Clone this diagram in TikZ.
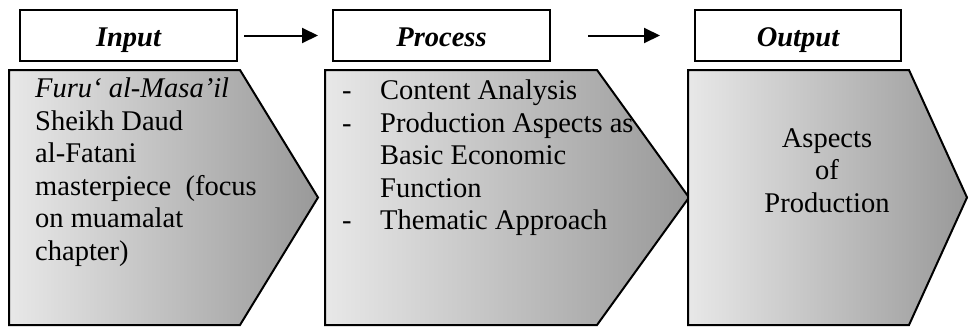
\documentclass[tikz,border=0pt]{standalone}
\usepackage{fontspec}
\setmainfont{Liberation Serif}
\usetikzlibrary{arrows.meta}
\definecolor{shadelight}{HTML}{E8E8E8}
\definecolor{shadedark}{HTML}{999999}
\newcommand{\dashitem}{\makebox[38pt][l]{-}}
\newcommand{\noitem}{\makebox[38pt][l]{}}
\begin{document}
\begin{tikzpicture}[x=1pt, y=-1pt,
        every node/.style={font=\fontsize{28.5}{32.5}\selectfont},
        titlebox/.style={draw, line width=2pt, minimum height=51pt, text height=21pt, text depth=0pt,
            font=\fontsize{28.5}{32.5}\selectfont\bfseries\itshape},
        chevron/.style={draw, line width=2pt, left color=shadelight, right color=shadedark},
        flow/.style={-{Triangle[length=16pt,width=15pt]}, line width=2pt}
    ]
        \useasboundingbox (0,0) rectangle (969,327);

        % Chevron shapes
        \shade[chevron] (9,70) -- (240,70) -- (318,197.5) -- (240,325) -- (9,325) -- cycle;
        \shade[chevron] (325,70) -- (597,70) -- (689,197.5) -- (597,325) -- (325,325) -- cycle;
        \shade[chevron] (688,70) -- (909,70) -- (967,197.5) -- (909,325) -- (688,325) -- cycle;

        % Headings
        \node[titlebox, minimum width=217pt] (inTitle) at (128.5,35.5) {Input};
        \node[titlebox, minimum width=217pt] (procTitle) at (441.5,35.5) {Process};
        \node[titlebox, minimum width=206pt] (outTitle) at (798,35.5) {Output};

        % Arrows between headings
        \draw[flow, shorten <=6pt, shorten >=14pt] (inTitle.east) -- (procTitle.west);
        \draw[flow, shorten <=37pt, shorten >=34pt] (procTitle.east) -- (outTitle.west);

        % Texts inside chevrons
        \node[anchor=north west, align=left, inner sep=0pt] (inText) at (35,78)
            {\textit{Furu‘ al-Masa’il}\\Sheikh Daud\\al-Fatani\\masterpiece\ \ (focus\\on muamalat\\chapter)};
        \node[anchor=north west, align=left, inner sep=0pt] (procText) at (342,80)
            {\dashitem Content Analysis\\\dashitem Production Aspects as\\\noitem Basic Economic\\\noitem Function\\\dashitem Thematic Approach};
        \node[anchor=north, align=center, inner sep=0pt] (outText) at (827,128)
            {Aspects\\of\\Production};
    \end{tikzpicture}
\end{document}
